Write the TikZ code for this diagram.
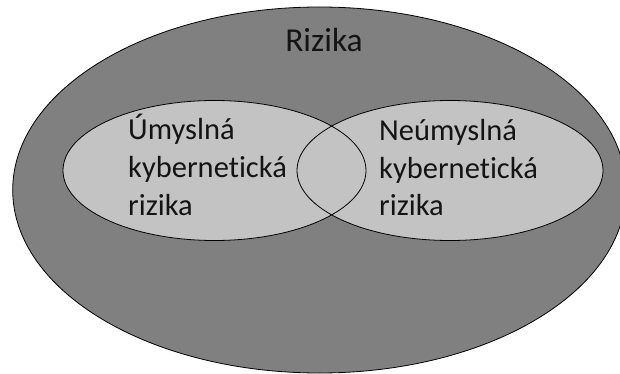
\documentclass[tikz,border=0pt]{standalone}
\usepackage{fontspec}
\setmainfont{Carlito}[Ligatures={NoCommon}]
\definecolor{outerfill}{HTML}{808080}
\definecolor{innerfill}{HTML}{C3C3C3}
\definecolor{txt}{HTML}{141414}
\tikzset{
  outline/.style={draw=black, line width=0.8pt},
  label/.style={inner sep=0pt, anchor=base west, text=txt, font=\fontsize{30.5}{36}\selectfont},
  title/.style={inner sep=0pt, anchor=base, text=txt, font=\fontsize{33.5}{40}\selectfont}
}
\begin{document}
\begin{tikzpicture}[x=1pt, y=-1pt]
\useasboundingbox (0,0) rectangle (620,374);
\clip (0,0) rectangle (620,374);
\coordinate (oc) at (319.4,190);
\coordinate (lc) at (214.5,170.5);
\coordinate (rc) at (450,170.5);
\fill[outerfill] (oc) ellipse [x radius=306.7, y radius=183];
\draw[outline] (oc) ellipse [x radius=306.7, y radius=183];
\fill[innerfill] (lc) ellipse [x radius=151.5, y radius=70];
\fill[innerfill] (rc) ellipse [x radius=153, y radius=70];
\draw[outline] (lc) ellipse [x radius=151.5, y radius=70];
\draw[outline] (rc) ellipse [x radius=153, y radius=70];
\node[title] (rizika) at (324,52) {Rizika};
\node[label] (l1) at (128,140) {Úmyslná};
\node[label] (l2) at (128,177.5) {kybernetická};
\node[label] (l3) at (128,215) {rizika};
\node[label] (r1) at (379,140.5) {Neúmyslná};
\node[label] (r2) at (379,178) {kybernetická};
\node[label] (r3) at (379,215.5) {rizika};
\end{tikzpicture}
\end{document}
